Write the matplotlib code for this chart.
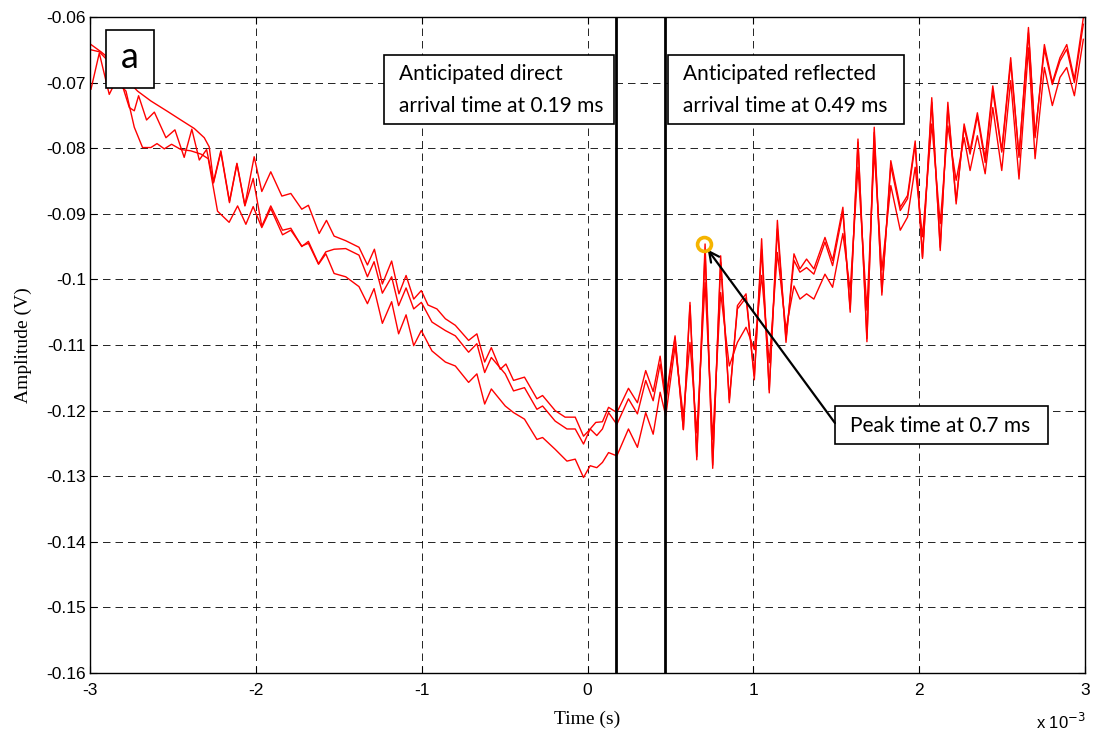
import matplotlib
matplotlib.use('Agg')
import matplotlib.pyplot as plt
from matplotlib.patches import Rectangle

# time in ms (axis is shown as x 10^-3 s), amplitude in V
t1 = [-2.994, -2.934, -2.910, -2.813, -2.713, -2.633, -2.532, -2.452, -2.371, -2.311,
      -2.281, -2.255, -2.211, -2.159, -2.114, -2.066, -2.010, -1.964, -1.910, -1.843,
      -1.789, -1.723, -1.683, -1.618, -1.574, -1.528, -1.458, -1.378, -1.327, -1.285,
      -1.237, -1.181, -1.137, -1.094, -1.048, -1.002, -0.962, -0.908, -0.857, -0.797,
      -0.717, -0.667, -0.620, -0.580, -0.526, -0.492, -0.446, -0.380, -0.305, -0.271,
      -0.195, -0.135, -0.074, -0.024, 0.006, 0.050, 0.090, 0.127, 0.177, 0.247,
      0.301, 0.351, 0.396, 0.438, 0.472, 0.528, 0.578, 0.618, 0.659, 0.709,
      0.755, 0.803, 0.855, 0.904, 0.956, 1.006, 1.050, 1.096, 1.145, 1.197,
      1.245, 1.281, 1.321, 1.365, 1.432, 1.478, 1.540, 1.584, 1.631, 1.685,
      1.729, 1.775, 1.829, 1.886, 1.930, 1.976, 2.020, 2.076, 2.127, 2.173,
      2.223, 2.271, 2.307, 2.351, 2.398, 2.444, 2.498, 2.552, 2.602, 2.659,
      2.699, 2.755, 2.803, 2.849, 2.890, 2.936, 2.990]
v1 = [-0.0642, -0.0653, -0.0658, -0.0687, -0.0713, -0.0728, -0.0744, -0.0757, -0.0770, -0.0784,
      -0.0798, -0.0851, -0.0804, -0.0881, -0.0823, -0.0887, -0.0813, -0.0866, -0.0836, -0.0873,
      -0.0869, -0.0893, -0.0887, -0.0930, -0.0910, -0.0934, -0.0941, -0.0951, -0.0978, -0.0954,
      -0.1007, -0.0972, -0.1022, -0.0994, -0.1030, -0.1017, -0.1039, -0.1045, -0.1060, -0.1070,
      -0.1093, -0.1083, -0.1126, -0.1104, -0.1137, -0.1129, -0.1154, -0.1149, -0.1182, -0.1177,
      -0.1200, -0.1210, -0.1210, -0.1239, -0.1231, -0.1218, -0.1217, -0.1195, -0.1203, -0.1166,
      -0.1188, -0.1139, -0.1171, -0.1117, -0.1182, -0.1086, -0.1229, -0.1035, -0.1275, -0.0946,
      -0.1288, -0.0964, -0.1188, -0.1040, -0.1022, -0.1153, -0.0938, -0.1173, -0.0910, -0.1096,
      -0.0961, -0.0984, -0.0969, -0.0984, -0.0936, -0.0971, -0.0890, -0.1050, -0.0786, -0.1095,
      -0.0768, -0.1024, -0.0819, -0.0890, -0.0872, -0.0789, -0.0968, -0.0723, -0.0956, -0.0730,
      -0.0885, -0.0763, -0.0804, -0.0746, -0.0816, -0.0705, -0.0804, -0.0662, -0.0814, -0.0616,
      -0.0784, -0.0642, -0.0700, -0.0662, -0.0642, -0.0695, -0.0601]

t2 = [-2.994, -2.944, -2.910, -2.833, -2.763, -2.733, -2.707, -2.659, -2.612, -2.542,
      -2.488, -2.432, -2.386, -2.341, -2.297, -2.255, -2.211, -2.159, -2.114, -2.066,
      -2.016, -1.964, -1.910, -1.839, -1.789, -1.723, -1.683, -1.622, -1.578, -1.528,
      -1.458, -1.378, -1.327, -1.287, -1.237, -1.181, -1.139, -1.094, -1.048, -1.002,
      -0.938, -0.857, -0.797, -0.717, -0.667, -0.620, -0.580, -0.496, -0.446, -0.380,
      -0.305, -0.271, -0.195, -0.124, -0.074, -0.024, 0.016, 0.056, 0.090, 0.127,
      0.177, 0.247, 0.301, 0.351, 0.396, 0.438, 0.472, 0.528, 0.578, 0.618,
      0.659, 0.709, 0.755, 0.803, 0.855, 0.904, 0.956, 1.006, 1.050, 1.096,
      1.145, 1.197, 1.245, 1.281, 1.321, 1.365, 1.432, 1.478, 1.540, 1.584,
      1.631, 1.685, 1.729, 1.775, 1.829, 1.886, 1.930, 1.976, 2.020, 2.076,
      2.127, 2.173, 2.223, 2.271, 2.307, 2.351, 2.398, 2.444, 2.498, 2.552,
      2.602, 2.659, 2.699, 2.755, 2.803, 2.849, 2.890, 2.936, 2.990]
v2 = [-0.0650, -0.0653, -0.0662, -0.0682, -0.0738, -0.0743, -0.0720, -0.0757, -0.0745, -0.0784,
      -0.0772, -0.0814, -0.0771, -0.0818, -0.0802, -0.0853, -0.0806, -0.0883, -0.0824, -0.0888,
      -0.0846, -0.0919, -0.0888, -0.0925, -0.0922, -0.0950, -0.0942, -0.0976, -0.0958, -0.0954,
      -0.0953, -0.0963, -0.0996, -0.0973, -0.1021, -0.0996, -0.1040, -0.1013, -0.1045, -0.1035,
      -0.1065, -0.1078, -0.1086, -0.1111, -0.1098, -0.1142, -0.1119, -0.1144, -0.1170, -0.1165,
      -0.1198, -0.1193, -0.1216, -0.1228, -0.1228, -0.1251, -0.1228, -0.1238, -0.1228, -0.1203,
      -0.1221, -0.1182, -0.1205, -0.1154, -0.1185, -0.1129, -0.1188, -0.1089, -0.1229, -0.1040,
      -0.1270, -0.0959, -0.1283, -0.0974, -0.1183, -0.1045, -0.1028, -0.1147, -0.0954, -0.1168,
      -0.0923, -0.1091, -0.0971, -0.0989, -0.0982, -0.0992, -0.0943, -0.0979, -0.0897, -0.1045,
      -0.0791, -0.1090, -0.0776, -0.1019, -0.0827, -0.0895, -0.0877, -0.0794, -0.0966, -0.0730,
      -0.0951, -0.0738, -0.0880, -0.0768, -0.0809, -0.0751, -0.0822, -0.0713, -0.0806, -0.0670,
      -0.0811, -0.0624, -0.0781, -0.0649, -0.0703, -0.0667, -0.0649, -0.0700, -0.0611]

t3 = [-2.994, -2.944, -2.884, -2.843, -2.783, -2.733, -2.683, -2.633, -2.596, -2.552,
      -2.508, -2.452, -2.392, -2.331, -2.287, -2.231, -2.161, -2.110, -2.060, -2.016,
      -1.964, -1.910, -1.839, -1.789, -1.723, -1.683, -1.622, -1.578, -1.528, -1.458,
      -1.378, -1.327, -1.287, -1.237, -1.181, -1.139, -1.094, -1.048, -1.002, -0.938,
      -0.857, -0.797, -0.717, -0.667, -0.620, -0.580, -0.496, -0.446, -0.380, -0.305,
      -0.271, -0.195, -0.124, -0.074, -0.024, 0.016, 0.056, 0.090, 0.127, 0.177,
      0.247, 0.301, 0.351, 0.396, 0.438, 0.472, 0.528, 0.578, 0.618, 0.659,
      0.709, 0.755, 0.803, 0.855, 0.904, 0.956, 1.006, 1.050, 1.096, 1.145,
      1.197, 1.245, 1.281, 1.321, 1.365, 1.432, 1.478, 1.540, 1.584, 1.631,
      1.685, 1.729, 1.775, 1.829, 1.886, 1.930, 1.976, 2.020, 2.076, 2.127,
      2.173, 2.223, 2.271, 2.307, 2.351, 2.398, 2.444, 2.498, 2.552, 2.602,
      2.659, 2.699, 2.755, 2.803, 2.849, 2.890, 2.936, 2.990]
v3 = [-0.0710, -0.0655, -0.0718, -0.0697, -0.0713, -0.0768, -0.0799, -0.0799, -0.0793, -0.0801,
      -0.0794, -0.0802, -0.0804, -0.0809, -0.0816, -0.0896, -0.0913, -0.0888, -0.0916, -0.0889,
      -0.0921, -0.0892, -0.0932, -0.0925, -0.0949, -0.0945, -0.0977, -0.0961, -0.0991, -0.0996,
      -0.1011, -0.1037, -0.1014, -0.1067, -0.1034, -0.1083, -0.1054, -0.1101, -0.1078, -0.1109,
      -0.1126, -0.1132, -0.1157, -0.1144, -0.1190, -0.1167, -0.1193, -0.1203, -0.1213, -0.1244,
      -0.1241, -0.1259, -0.1277, -0.1274, -0.1302, -0.1284, -0.1287, -0.1279, -0.1264, -0.1269,
      -0.1228, -0.1256, -0.1203, -0.1236, -0.1172, -0.1208, -0.1102, -0.1209, -0.1096, -0.1234,
      -0.1005, -0.1244, -0.1020, -0.1132, -0.1096, -0.1073, -0.1107, -0.0994, -0.1127, -0.0959,
      -0.1076, -0.1010, -0.1030, -0.1022, -0.1030, -0.0992, -0.1012, -0.0930, -0.1016, -0.0829,
      -0.1047, -0.0804, -0.0986, -0.0857, -0.0925, -0.0905, -0.0829, -0.0935, -0.0763, -0.0915,
      -0.0766, -0.0849, -0.0784, -0.0834, -0.0781, -0.0839, -0.0738, -0.0834, -0.0697, -0.0847,
      -0.0647, -0.0816, -0.0677, -0.0735, -0.0692, -0.0677, -0.0720, -0.0634]

arrival_lines = [0.17, 0.47]   # where the two black markers sit (ms)
peak_t, peak_v = 0.70, -0.0946

xticks = [-3, -2, -1, 0, 1, 2, 3]
yticks = [-0.16, -0.15, -0.14, -0.13, -0.12, -0.11, -0.10, -0.09, -0.08, -0.07, -0.06]
ylabels = ['-0.16', '-0.15', '-0.14', '-0.13', '-0.12', '-0.11', '-0.1',
           '-0.09', '-0.08', '-0.07', '-0.06']

fig = plt.figure(figsize=(10.96, 7.37), dpi=100)
ax = fig.add_axes([90 / 1096, 1 - 673 / 737, 995 / 1096, 656 / 737])

for tt, vv in [(t1, v1), (t2, v2), (t3, v3)]:
    ax.plot(tt, vv, color='red', lw=1.0)

for xl in arrival_lines:
    ax.axvline(xl, color='black', lw=2.0, zorder=3)

ax.set_xlim(-3, 3)
ax.set_ylim(-0.16, -0.06)
ax.set_xticks(xticks)
ax.set_xticklabels([str(x) for x in xticks])
ax.set_yticks(yticks)
ax.set_yticklabels(ylabels)
ax.tick_params(direction='in', length=5, top=True, right=True, labelsize=12.5,
               width=0.8)
ax.tick_params(axis='x', pad=7)
ax.tick_params(axis='y', pad=3)
for lab in ax.get_xticklabels() + ax.get_yticklabels():
    lab.set_fontfamily('Liberation Sans')
ax.grid(True, color='black', lw=0.6, linestyle=(0, (9, 6)))
for sp in ax.spines.values():
    sp.set_linewidth(1.0)

ax.set_xlabel('Time (s)', family='Liberation Serif', fontsize=14, labelpad=9)
ax.set_ylabel('Amplitude (V)', family='Liberation Serif', fontsize=14, labelpad=10)
fig.text(1036 / 1096, 1 - 729 / 737, r'x 10$^{-3}$', family='Liberation Sans',
         fontsize=12, ha='left', va='baseline')

# label boxes
def box(x0, y0, x1, y1):
    ax.add_patch(Rectangle((x0, y0), x1 - x0, y1 - y0, transform=ax.transAxes,
                           facecolor='white', edgecolor='black', lw=1.2, zorder=5))

box(0.0161, 0.8918, 0.0643, 0.980)
ax.text(0.0402, 0.938, 'a', transform=ax.transAxes, fontsize=26, family='Lato',
        ha='center', va='center', zorder=6)

box(0.2955, 0.8363, 0.5266, 0.9428)
ax.text(0.3106, 0.8880, 'Anticipated direct\narrival time at 0.19 ms',
        transform=ax.transAxes, fontsize=15, family='Lato', ha='left', va='center',
        linespacing=1.75, zorder=6)

box(0.5809, 0.8363, 0.8181, 0.9428)
ax.text(0.5964, 0.8880, 'Anticipated reflected\narrival time at 0.49 ms',
        transform=ax.transAxes, fontsize=15, family='Lato', ha='left', va='center',
        linespacing=1.75, zorder=6)

box(0.7487, 0.3491, 0.9628, 0.4070)
ax.text(0.7638, 0.3771, 'Peak time at 0.7 ms', transform=ax.transAxes,
        fontsize=15, family='Lato', ha='left', va='center', zorder=6)

ax.annotate('', xy=(peak_t, peak_v), xytext=(0.7487, 0.3811),
            textcoords='axes fraction',
            arrowprops=dict(arrowstyle='->', color='black', lw=1.6,
                            shrinkA=0, shrinkB=5, mutation_scale=18), zorder=6)
ax.plot(peak_t, peak_v, 'o', ms=10, mfc='none', mec='#F5B400', mew=2.6, zorder=7)

fig.savefig('out.png', dpi=100)
